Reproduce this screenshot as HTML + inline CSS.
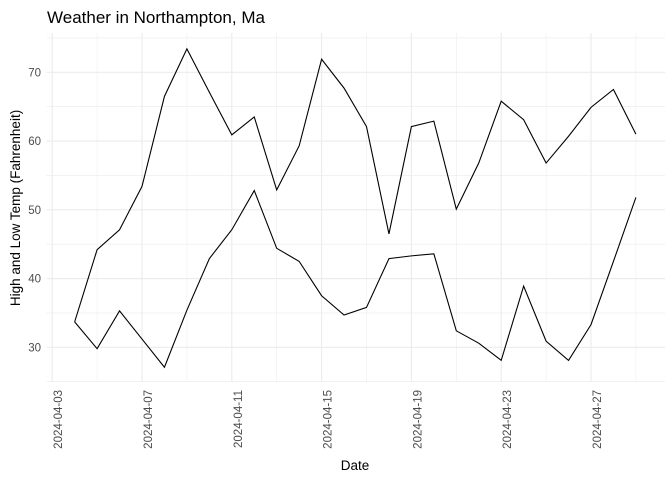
<!DOCTYPE html>
<html><head><meta charset="utf-8"><style>
body{margin:0;background:#fff}
svg{font-family:"Liberation Sans",Arial,sans-serif}
</style></head><body>
<svg id="chart" width="672" height="480">
<text x="47" y="23" font-size="17" fill="#000">Weather in Northampton, Ma</text>
<g id="grid"></g><g id="lines"></g><g id="axes"></g>
<text x="355" y="470" font-size="13.5" text-anchor="middle" fill="#000">Date</text>
<text transform="translate(20,208) rotate(-90)" font-size="13.5" text-anchor="middle" fill="#000">High and Low Temp (Fahrenheit)</text>
</svg>
<script>
const dates=["2024-04-04","2024-04-05","2024-04-06","2024-04-07","2024-04-08","2024-04-09","2024-04-10","2024-04-11","2024-04-12","2024-04-13","2024-04-14","2024-04-15","2024-04-16","2024-04-17","2024-04-18","2024-04-19","2024-04-20","2024-04-21","2024-04-22","2024-04-23","2024-04-24","2024-04-25","2024-04-26","2024-04-27","2024-04-28","2024-04-29"];
const highs=[33.7,44.2,47.1,53.4,66.5,73.4,67.1,60.9,63.5,52.9,59.3,71.9,67.7,62.1,46.5,62.1,62.9,50.1,56.8,65.8,63.1,56.8,60.7,64.9,67.5,61.0];
const lows=[33.7,29.8,35.3,31.2,27.1,35.4,42.9,47.1,52.8,44.4,42.5,37.5,34.7,35.8,42.9,43.3,43.6,32.4,30.6,28.1,38.9,30.9,28.1,33.3,42.5,51.8];
const yTicks=[30,40,50,60,70];
const xTickLabels=["2024-04-03","2024-04-07","2024-04-11","2024-04-15","2024-04-19","2024-04-23","2024-04-27"];
const NS="http://www.w3.org/2000/svg";
const day0=Date.parse("2024-04-03");
function x(d){return 52.2+(Date.parse(d)-day0)/864e5*22.45;}
function y(v){return 347.3-(v-30)*6.875;}
const L=46.7,R=665,T=33,B=382;
const grid=document.getElementById('grid'),lines=document.getElementById('lines'),axes=document.getElementById('axes');
function ln(p,x1,y1,x2,y2,c,w){const l=document.createElementNS(NS,'line');l.setAttribute('x1',x1);l.setAttribute('y1',y1);l.setAttribute('x2',x2);l.setAttribute('y2',y2);l.setAttribute('stroke',c);l.setAttribute('stroke-width',w);p.appendChild(l);return l;}
for(let v=25;v<=75;v+=5){const g=ln(grid,L,y(v),R,y(v),'#ebebeb',v%10==0?1.1:0.55);

}
for(let k=0;k<=14;k++){const d=new Date(day0+k*2*864e5).toISOString().slice(0,10);const xx=x(d);const g=ln(grid,xx,T,xx,B,'#ebebeb',k%2==0?1.1:0.55);

}
yTicks.forEach(v=>{const t=document.createElementNS(NS,'text');t.setAttribute('x',41);t.setAttribute('y',y(v)+4);t.setAttribute('text-anchor','end');t.setAttribute('font-size','11.5');t.setAttribute('fill','#4d4d4d');t.textContent=v;


axes.appendChild(t);});
xTickLabels.forEach(d=>{const t=document.createElementNS(NS,'text');const xx=x(d)+10;t.setAttribute('transform',`translate(${xx},390) rotate(-90)`);t.setAttribute('text-anchor','end');t.setAttribute('font-size','11.5');t.setAttribute('fill','#4d4d4d');t.textContent=d;


axes.appendChild(t);});
function path(vals,name){const p=document.createElementNS(NS,'polyline');p.setAttribute('points',vals.map((v,i)=>x(dates[i])+','+y(v)).join(' '));p.setAttribute('fill','none');p.setAttribute('stroke','#000');p.setAttribute('stroke-width','1.1');


lines.appendChild(p);}
path(highs,'high-temp-line');
path(lows,'low-temp-line');
</script>
</body></html>
